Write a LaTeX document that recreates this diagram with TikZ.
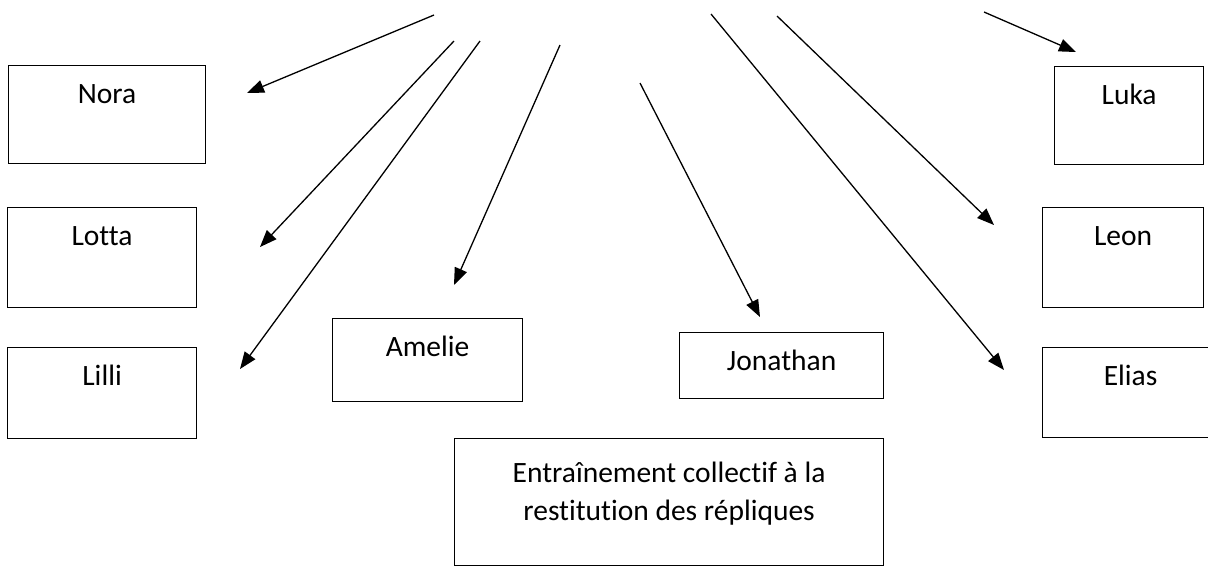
\documentclass[tikz,border=0pt]{standalone}
\usepackage{fontspec}
\setmainfont[Ligatures=NoCommon]{Carlito}
\usetikzlibrary{arrows.meta}
\tikzstyle{box}=[draw, line width=1.2pt, inner sep=0pt, anchor=north west, text height=38pt]
\tikzstyle{pointer}=[line width=1.3pt, -{Triangle[length=17pt, width=13pt]}]

\begin{document}
\begin{tikzpicture}[x=1pt, y=-1pt, font=\fontsize{29.5}{38}\selectfont]
          \useasboundingbox (0, 0) rectangle (1208, 566);
          % left column
          \node[box, minimum width=197pt, text depth=60pt] (nora) at (8, 65) {Nora};
          \node[box, minimum width=189pt, text depth=62pt] (lotta) at (7, 207) {Lotta};
          \node[box, minimum width=189pt, text depth=53pt] (lilli) at (7, 347) {Lilli};
          % middle
          \node[box, minimum width=190pt, text depth=45pt] (amelie) at (332, 318) {Amelie};
          \node[box, minimum width=204pt, text depth=28pt] (jonathan) at (679, 332) {Jonathan};
          \node[box, minimum width=429pt, text height=82pt, text depth=45pt, align=center]
            (training) at (454, 438) {Entraînement collectif à la\\restitution des répliques};
          % right column
          \node[box, minimum width=149pt, text depth=60pt] (luka) at (1054, 66) {Luka};
          \node[box, minimum width=161pt, text depth=62pt] (leon) at (1042, 207) {Leon};
          \node[box, minimum width=176pt, text depth=52pt] (elias) at (1042, 347) {Elias};
          % arrow ends
          \coordinate (from-nora) at (434, 15);
          \coordinate (to-nora) at (247, 93);
          \coordinate (from-lotta) at (454, 41);
          \coordinate (to-lotta) at (260, 247);
          \coordinate (from-lilli) at (480, 41);
          \coordinate (to-lilli) at (240, 369);
          \coordinate (from-amelie) at (560, 45);
          \coordinate (to-amelie) at (454, 285);
          \coordinate (from-jonathan) at (640, 83);
          \coordinate (to-jonathan) at (760, 317);
          \coordinate (from-elias) at (711, 14);
          \coordinate (to-elias) at (1004, 370);
          \coordinate (from-leon) at (777, 16);
          \coordinate (to-leon) at (994, 225);
          \coordinate (from-luka) at (984, 12);
          \coordinate (to-luka) at (1076, 52);
          \foreach \who in {nora, lotta, lilli, amelie, jonathan, elias, leon, luka}
            \draw[pointer] (from-\who) -- (to-\who);
        \end{tikzpicture}
\end{document}
